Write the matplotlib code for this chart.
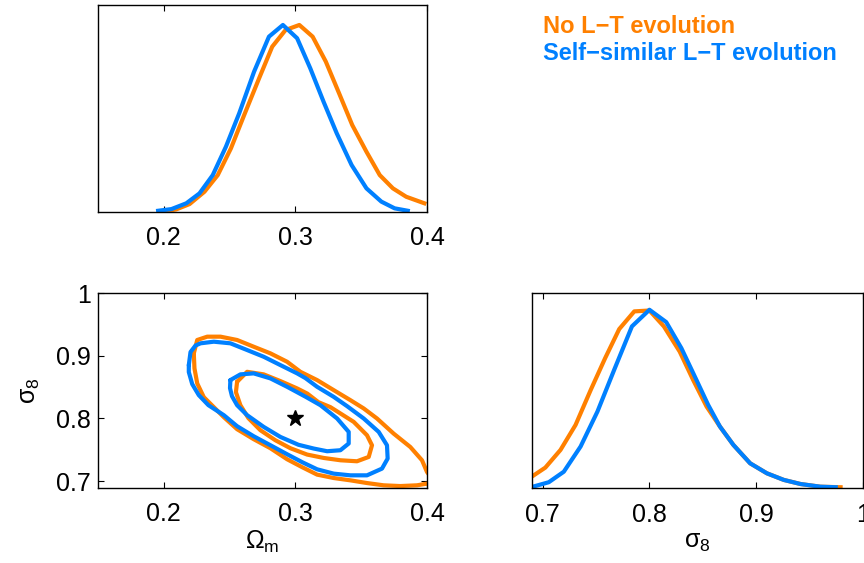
import numpy as np
import matplotlib
matplotlib.use("Agg")
import matplotlib.pyplot as plt

plt.rcParams['font.family'] = ['Liberation Sans', 'DejaVu Sans']
plt.rcParams['mathtext.fontset'] = 'custom'
plt.rcParams['mathtext.rm'] = 'Liberation Sans'
plt.rcParams['mathtext.it'] = 'Liberation Sans'

ORANGE = '#ff8000'
BLUE = '#0080ff'

# ---- Omega_m marginal (top-left) ----
om_x_orange = [0.1995, 0.2095, 0.2196, 0.2309, 0.2410, 0.2510, 0.2611, 0.2724, 0.2824, 0.2925,
               0.3030, 0.3131, 0.3231, 0.3332, 0.3432, 0.3540, 0.3641, 0.3741, 0.3842, 0.3980]
om_p_orange = [0.000, 0.0125, 0.041, 0.107, 0.196, 0.339, 0.518, 0.714, 0.884, 0.973,
               1.000, 0.9375, 0.804, 0.634, 0.464, 0.321, 0.196, 0.125, 0.080, 0.045]
om_x_blue = [0.1957, 0.2058, 0.2171, 0.2271, 0.2372, 0.2472, 0.2573, 0.2686, 0.2799, 0.2905,
             0.3013, 0.3113, 0.3214, 0.3314, 0.3427, 0.3540, 0.3653, 0.3754, 0.3854]
om_p_blue = [0.005, 0.014, 0.045, 0.098, 0.196, 0.348, 0.527, 0.750, 0.9375, 1.000,
             0.929, 0.768, 0.589, 0.420, 0.250, 0.125, 0.054, 0.018, 0.005]

# ---- sigma_8 marginal (bottom-right) ----
s8_x_orange = [0.689, 0.7025, 0.7167, 0.7308, 0.745, 0.7585, 0.7717, 0.7858, 0.800, 0.8135,
               0.8283, 0.8409, 0.8535, 0.866, 0.8786, 0.8943, 0.910, 0.9258, 0.9415, 0.960, 0.979]
s8_p_orange = [0.062, 0.116, 0.215, 0.355, 0.551, 0.729, 0.892, 0.991, 0.996, 0.907,
               0.766, 0.607, 0.458, 0.346, 0.243, 0.140, 0.084, 0.047, 0.024, 0.009, 0.006]
s8_x_blue = [0.689, 0.7057, 0.7198, 0.7355, 0.7513, 0.767, 0.7836, 0.800, 0.8157, 0.8299,
             0.844, 0.855, 0.866, 0.8786, 0.8943, 0.910, 0.9258, 0.9415, 0.960, 0.9745]
s8_p_blue = [0.006, 0.034, 0.093, 0.234, 0.430, 0.664, 0.907, 1.000, 0.931, 0.785,
             0.607, 0.467, 0.346, 0.243, 0.140, 0.084, 0.047, 0.024, 0.009, 0.006]

# ---- 2D contours (bottom-left) ----
blue_outer_om = [0.2190, 0.2203, 0.2241, 0.2279, 0.2380, 0.2506, 0.2633, 0.2759, 0.2886, 0.3013,
                 0.3076, 0.3165, 0.3291, 0.3393, 0.3519, 0.3633, 0.3696, 0.3701, 0.3658, 0.3544,
                 0.3418, 0.3291, 0.3165, 0.3053, 0.2937, 0.2810, 0.2683, 0.2557, 0.2456, 0.2339,
                 0.2266, 0.2216, 0.2190]
blue_outer_s8 = [0.8851, 0.9059, 0.9163, 0.9198, 0.9224, 0.9198, 0.9091, 0.8984, 0.8851, 0.8719,
                 0.8644, 0.8505, 0.8345, 0.8196, 0.8000, 0.7786, 0.7573, 0.7361, 0.7201, 0.7094,
                 0.7094, 0.7121, 0.7190, 0.7302, 0.7430, 0.7574, 0.7717, 0.7877, 0.8053, 0.8212,
                 0.8372, 0.8548, 0.8740]

orange_outer_om = [0.2228, 0.2254, 0.2330, 0.2431, 0.2557, 0.2683, 0.2810, 0.2937, 0.3038, 0.3165,
                   0.3291, 0.3418, 0.3519, 0.3620, 0.3746, 0.3873, 0.3962, 0.4000, 0.4048, 0.4048,
                   0.4000, 0.3924, 0.3797, 0.3670, 0.3544, 0.3418, 0.3291, 0.3165, 0.3053, 0.2937,
                   0.2810, 0.2683, 0.2557, 0.2456, 0.2380, 0.2304, 0.2254, 0.2233]
orange_outer_s8 = [0.9038, 0.9251, 0.9304, 0.9304, 0.9251, 0.9144, 0.9038, 0.8904, 0.8744, 0.8612,
                   0.8452, 0.8292, 0.8160, 0.8000, 0.7760, 0.7546, 0.7334, 0.7147, 0.7014, 0.6903,
                   0.6962, 0.6935, 0.6923, 0.6935, 0.6971, 0.7014, 0.7051, 0.7105, 0.7222, 0.7350,
                   0.7526, 0.7670, 0.7829, 0.8021, 0.8181, 0.8340, 0.8559, 0.8799]

blue_inner_om = [0.2506, 0.2582, 0.2683, 0.2810, 0.2937, 0.3076, 0.3190, 0.3317, 0.3405, 0.3405,
                 0.3342, 0.3241, 0.3139, 0.3023, 0.2886, 0.2759, 0.2633, 0.2557, 0.2518, 0.2503]
blue_inner_s8 = [0.8612, 0.8703, 0.8719, 0.8639, 0.8505, 0.8348, 0.8212, 0.8000, 0.7786, 0.7601,
                 0.7494, 0.7478, 0.7521, 0.7581, 0.7706, 0.7866, 0.8053, 0.8212, 0.8356, 0.8484]

orange_inner_om = [0.2557, 0.2633, 0.2759, 0.2886, 0.3013, 0.3091, 0.3175, 0.3266, 0.3443, 0.3544,
                   0.3582, 0.3557, 0.3468, 0.3342, 0.3215, 0.3089, 0.2962, 0.2848, 0.2734, 0.2643,
                   0.2582, 0.2548]
orange_inner_s8 = [0.8585, 0.8744, 0.8703, 0.8596, 0.8479, 0.8396, 0.8260, 0.8181, 0.7946, 0.7733,
                   0.7573, 0.7387, 0.7318, 0.7334, 0.7371, 0.7425, 0.7526, 0.7653, 0.7813, 0.8005,
                   0.8212, 0.8420]

true_om = [0.3]
true_s8 = [0.8]

om_ticks = [0.2, 0.3, 0.4]
om_ticklabels = ['0.2', '0.3', '0.4']
s8_ticks = [0.7, 0.8, 0.9, 1.0]
s8_ticklabels = ['0.7', '0.8', '0.9', '1']

legend_labels = ['No L\u2212T evolution', 'Self\u2212similar L\u2212T evolution']

W, H = 864, 563
fig = plt.figure(figsize=(W / 100, H / 100), dpi=100)

FS = 18
LW = 3.0


def style(ax):
    ax.tick_params(direction='in', length=4, width=0.8, top=True, right=True,
                   labelsize=FS, pad=10.5)
    ax.tick_params(axis='y', pad=5)
    for s in ax.spines.values():
        s.set_linewidth(1.0)


def box(l, r, t, b):
    return [l / W, 1 - b / H, (r - l) / W, (b - t) / H]


# Top-left: Omega_m marginal
ax1 = fig.add_axes(box(98, 427, 5, 211.7))
ax1.plot(om_x_orange, om_p_orange, color=ORANGE, lw=LW, solid_joinstyle='round')
ax1.plot(om_x_blue, om_p_blue, color=BLUE, lw=LW, solid_joinstyle='round')
ax1.set_xlim(0.15, 0.4)
ax1.set_ylim(0, 1.107)
ax1.set_xticks(om_ticks)
ax1.set_xticklabels(om_ticklabels)
ax1.set_yticks([])
style(ax1)

# Bottom-left: 2D contours
ax2 = fig.add_axes(box(98, 427, 293, 487.5))
for xs, ys, c in [(orange_outer_om, orange_outer_s8, ORANGE),
                  (orange_inner_om, orange_inner_s8, ORANGE),
                  (blue_outer_om, blue_outer_s8, BLUE),
                  (blue_inner_om, blue_inner_s8, BLUE)]:
    ax2.plot(list(xs) + [xs[0]], list(ys) + [ys[0]], color=c, lw=LW,
             solid_joinstyle='round', solid_capstyle='round')
ax2.plot(true_om, true_s8, marker='*', color='black', markersize=12, linestyle='none')
ax2.set_xlim(0.15, 0.4)
ax2.set_ylim(0.69, 1.0)
ax2.set_xticks(om_ticks)
ax2.set_xticklabels(om_ticklabels)
ax2.set_yticks(s8_ticks)
ax2.set_yticklabels(s8_ticklabels)
style(ax2)
ax2.set_xlabel('$\\mathregular{\u03a9_m}$', fontsize=FS, labelpad=2)
ax2.set_ylabel('$\\mathregular{\u03c3_8}$', fontsize=FS, labelpad=10)

# Bottom-right: sigma_8 marginal
ax3 = fig.add_axes(box(532, 863, 293, 488.3))
ax3.plot(s8_x_orange, s8_p_orange, color=ORANGE, lw=LW, solid_joinstyle='round')
ax3.plot(s8_x_blue, s8_p_blue, color=BLUE, lw=LW, solid_joinstyle='round')
ax3.set_xlim(0.69, 1.0)
ax3.set_ylim(0, 1.094)
ax3.set_xticks(s8_ticks)
ax3.set_xticklabels(s8_ticklabels)
ax3.set_yticks([])
style(ax3)
ax3.set_xlabel('$\\mathregular{\u03c3_8}$', fontsize=FS, labelpad=2)

# Legend text
fig.text(542.7 / W, 1 - 33.3 / H, legend_labels[0], color=ORANGE, fontsize=17,
         fontweight='bold', ha='left', va='baseline')
fig.text(542.7 / W, 1 - 60.5 / H, legend_labels[1], color=BLUE, fontsize=17,
         fontweight='bold', ha='left', va='baseline')

fig.savefig('out.png', dpi=100)
